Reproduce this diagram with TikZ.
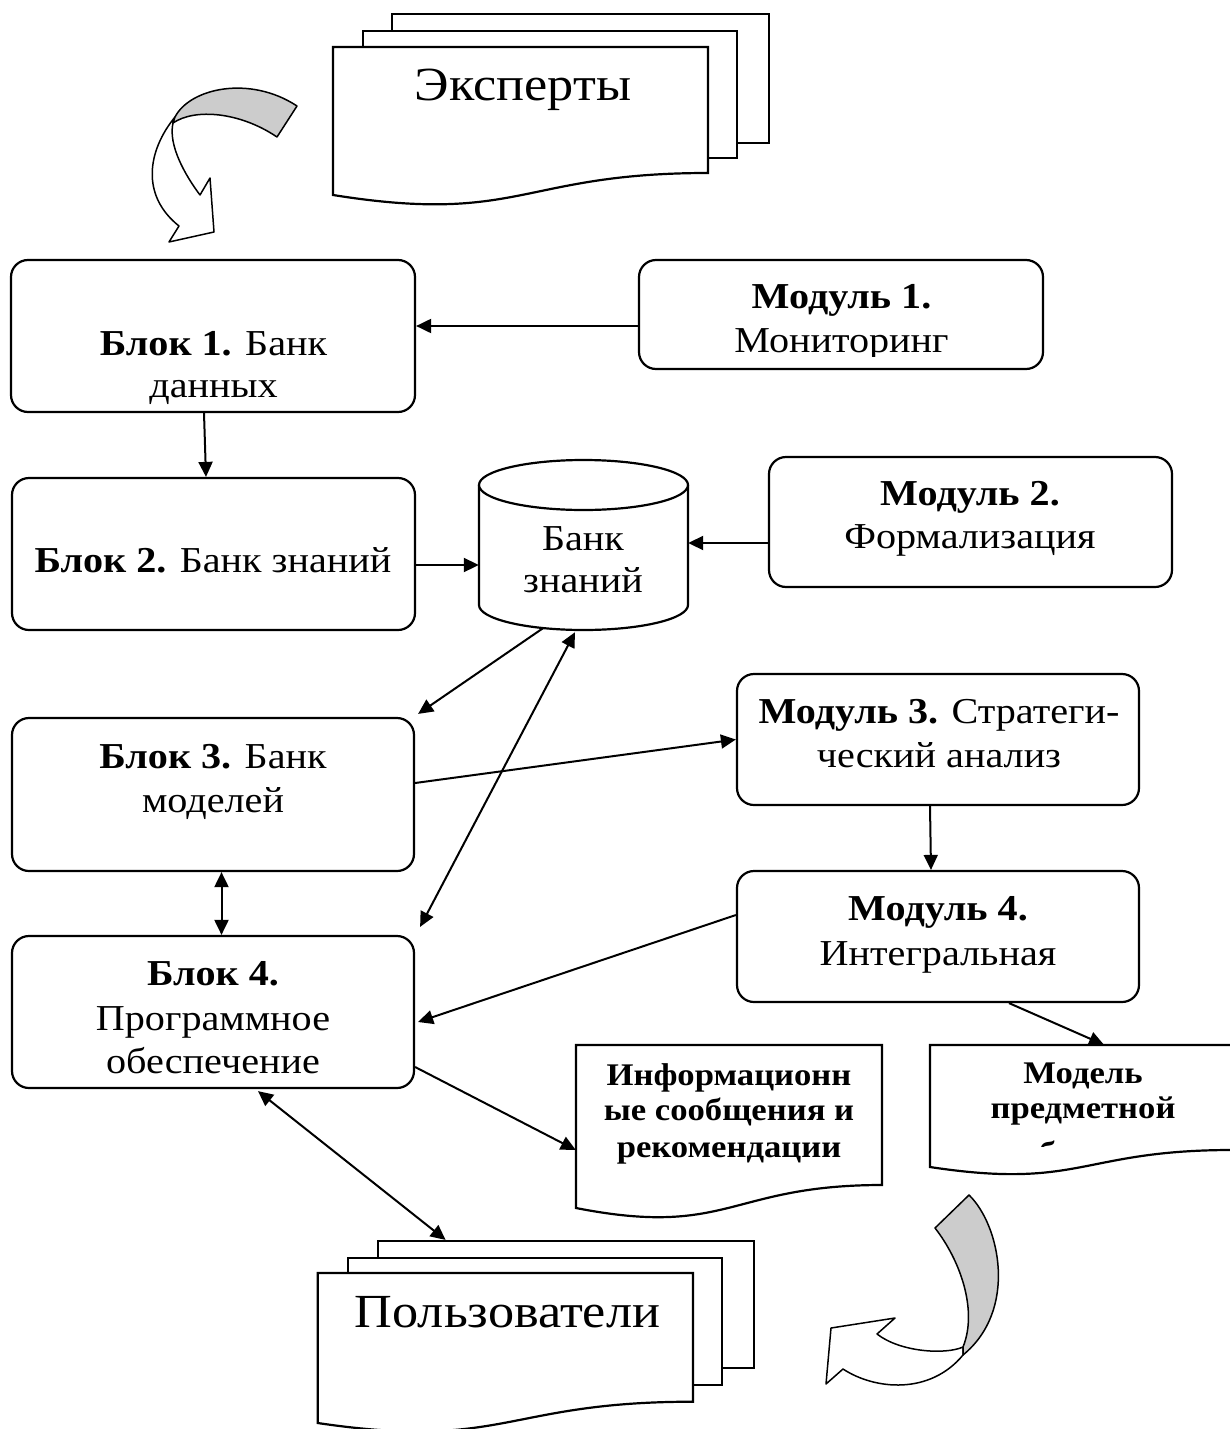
\documentclass[tikz,border=0pt]{standalone}
\usepackage{fontspec}
\setmainfont{Liberation Serif}[FakeStretch=1.1]
\usetikzlibrary{arrows.meta}
\tikzset{
  box/.style={draw, line width=2.2pt, rounded corners=17pt, inner sep=0pt, fill=white},
  sheet/.style={draw, line width=2.2pt, fill=white, inner sep=0pt},
  ghost/.style={inner sep=0pt},
  arr/.style={line width=2pt, -{Triangle[length=15pt,width=14pt]}},
  darr/.style={line width=2pt, {Triangle[length=15pt,width=14pt]}-{Triangle[length=15pt,width=14pt]}},
  txt/.style={anchor=base, inner sep=0pt, font=\fontsize{36.5}{43}\selectfont},
  bigtxt/.style={anchor=base, inner sep=0pt, font=\fontsize{47.5}{58}\selectfont},
  smalltxt/.style={anchor=base, inner sep=0pt, font=\fontsize{31.5}{36}\selectfont\bfseries},
  swoosh/.style={draw, line width=1.5pt, line join=round}
}
\begin{document}
\begin{tikzpicture}[x=1pt, y=-1pt]
\useasboundingbox (0,0) rectangle (1230,1429);
\fill[white] (0,0) rectangle (1230,1429);
\clip (0,0) rectangle (1230,1429);

% ---- Experts stack ----
\node[sheet, minimum width=377pt, minimum height=129pt] (eb) at (580.5,78.5) {};
\node[sheet, minimum width=374pt, minimum height=127pt] (em) at (550,94.5) {};
\draw[line width=2.2pt, fill=white] (333,47) -- (708,47) -- (708,173)
  .. controls (520.5,173) and (520.5,225) .. (333,195) -- cycle;
\node[ghost, minimum width=375pt, minimum height=150pt] (ef) at (520.5,122) {};
\node[bigtxt] (tef) at (523,100) {Эксперты};

% ---- curved arrow top-left ----
\path[swoosh, fill=white] (175,117) .. controls (148,150) and (140,195) .. (179,226)
  -- (169,242) -- (214,232) -- (210,178) -- (200,195)
  .. controls (185,175) and (168,145) .. (173,123) -- cycle;
\path[swoosh, fill={rgb,255:red,204;green,204;blue,204}] (175,117)
  .. controls (190,88) and (250,75) .. (297,106) -- (277,137)
  .. controls (240,112) and (195,108) .. (173,123) -- cycle;

% ---- Blocks ----
\node[box, minimum width=404pt, minimum height=152pt] (b1) at (213,336) {};
\node[box, minimum width=403pt, minimum height=152pt] (b2) at (213.5,554) {};
\node[box, minimum width=402pt, minimum height=153pt] (b3) at (213,794.5) {};
\node[box, minimum width=402pt, minimum height=152pt] (b4) at (213,1012) {};

\node[txt] (tb1a) at (213.5,355) {\bfseries Блок 1.\mdseries{} Банк};
\node[txt] (tb1b) at (213.5,397) {данных};
\node[txt] (tb2a) at (213,572) {\bfseries Блок 2.\mdseries{} Банк знаний};
\node[txt] (tb3a) at (213,768) {\bfseries Блок 3.\mdseries{} Банк};
\node[txt] (tb3b) at (213,812) {моделей};
\node[txt] (tb4a) at (213,985) {\bfseries Блок 4.};
\node[txt] (tb4b) at (213,1030) {Программное};
\node[txt] (tb4c) at (213,1073) {обеспечение};

% ---- Modules ----
\node[box, minimum width=404pt, minimum height=109pt] (m1) at (841,314.5) {};
\node[box, minimum width=403pt, minimum height=130pt] (m2) at (970.5,522) {};
\node[box, minimum width=402pt, minimum height=131pt] (m3) at (938,739.5) {};
\node[box, minimum width=402pt, minimum height=131pt] (m4) at (938,936.5) {};

\node[txt] (tm1a) at (841.5,308) {\bfseries Модуль 1.};
\begin{scope}
  \clip (645,320) rectangle (1035,356);
  \node[txt] (tm1b) at (841.5,352) {Мониторинг};
\end{scope}
\node[txt] (tm2a) at (970,505) {\bfseries Модуль 2.};
\node[txt] (tm2b) at (970,548) {Формализация};
\node[txt] (tm3a) at (939,723) {\bfseries Модуль 3.\mdseries{} Стратеги-};
\node[txt] (tm3b) at (939,767) {ческий анализ};
\node[txt] (tm4a) at (938,920) {\bfseries Модуль 4.};
\node[txt] (tm4b) at (938,965) {Интегральная};

% ---- Cylinder ----
\path[draw, line width=2.2pt, fill=white] (479,485) -- (479,605)
  arc[start angle=180, end angle=0, x radius=104.5, y radius=25] -- (688,485);
\draw[line width=2.2pt, fill=white] (583.5,485) ellipse [x radius=104.5, y radius=25];
\node[ghost, minimum width=209pt, minimum height=170pt] (cyl) at (583.5,545) {};
\node[txt] (tca) at (583,550) {Банк};
\node[txt] (tcb) at (583,592) {знаний};

% ---- Info document ----
\draw[line width=2.2pt, fill=white] (576,1045) -- (882,1045) -- (882,1185)
  .. controls (729,1185) and (729,1238) .. (576,1208) -- cycle;
\node[ghost, minimum width=306pt, minimum height=140pt] (inf) at (729,1115) {};
\node[smalltxt] (tia) at (729,1085) {Информационн};
\node[smalltxt] (tib) at (729,1120) {ые сообщения и};
\node[smalltxt] (tic) at (729,1157) {рекомендации};

% ---- Model document ----
\draw[line width=2.2pt, fill=white] (930,1045) -- (1232,1045) -- (1232,1150)
  .. controls (1081,1150) and (1081,1190) .. (930,1167) -- cycle;
\node[ghost, minimum width=302pt, minimum height=122pt] (md) at (1081,1106) {};
\node[smalltxt] (tma) at (1083,1083) {Модель};
\node[smalltxt] (tmb) at (1083,1118) {предметной};
\begin{scope}
  \clip (932,1100) rectangle (1228,1146);
  \node[smalltxt] (tmc) at (1083,1163) {области};
\end{scope}

% ---- Users stack ----
\node[sheet, minimum width=376.3pt, minimum height=127pt] (ub) at (565.85,1304.5) {};
\node[sheet, minimum width=374pt, minimum height=127.3pt] (um) at (535,1321.35) {};
\draw[line width=2.2pt, fill=white] (317.7,1273) -- (693,1273) -- (693,1401.7)
  .. controls (505,1401.7) and (505,1450.7) .. (317.7,1423) -- cycle;
\node[bigtxt] (tuf) at (507.5,1327) {Пользователи};

% ---- curved arrow bottom-right ----
\path[swoosh, fill=white] (963,1347) .. controls (945,1355) and (900,1352) .. (877,1334)
  -- (895,1318) -- (831,1328) -- (826,1384) -- (843,1369)
  .. controls (875,1390) and (930,1395) .. (963,1355) -- cycle;
\path[swoosh, fill={rgb,255:red,204;green,204;blue,204}] (935,1228) -- (969,1195)
  .. controls (1000,1225) and (1018,1310) .. (963,1355)
  -- (963,1347) .. controls (978,1310) and (960,1260) .. (935,1228) -- cycle;

% ---- Connectors ----
\draw[arr] ([yshift=-11.5pt]m1.west) -- ([yshift=10pt]b1.east);
\draw[arr] ([xshift=-9pt]b1.south) -- ([xshift=-7.5pt]b2.north);
\draw[arr] ([yshift=-11pt]b2.east) -- ([yshift=-20pt]cyl.west);
\draw[arr] ([yshift=-21pt]m2.west) -- ([yshift=2pt]cyl.east);
\draw[arr] ([xshift=-40.5pt,yshift=2pt]cyl.south) -- ([xshift=3pt,yshift=3pt]b3.north east);
\draw[darr] ([xshift=-8.5pt,yshift=-2pt]cyl.south) -- ([xshift=5pt,yshift=8pt]b4.north east);
\draw[arr] ([yshift=11.5pt]b3.east) -- (m3.west);
\draw[darr] ([xshift=8.5pt]b3.south) -- ([xshift=8.5pt]b4.north);
\draw[arr] ([xshift=-8pt]m3.south) -- ([xshift=-7pt]m4.north);
\draw[arr] ([yshift=21.5pt]m4.west) -- ([xshift=3pt,yshift=-10pt]b4.east);
\draw[arr] ([yshift=-55pt]b4.east) -- ([yshift=-35pt]inf.west);
\draw[arr] ([xshift=71pt]m4.south) -- ([xshift=23pt]md.north);
\draw[darr] ([xshift=45pt,yshift=-2pt]b4.south) -- ([xshift=69pt]ub.north west);
\end{tikzpicture}
\end{document}
